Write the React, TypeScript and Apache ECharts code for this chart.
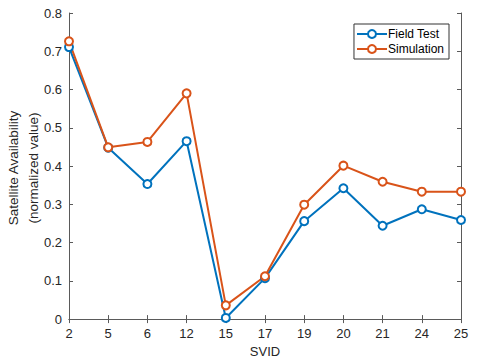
import React, { useEffect, useRef } from "react";
import * as echarts from "echarts";

const categories = ["2", "5", "6", "12", "15", "17", "19", "20", "21", "24", "25"];
const fieldTest = [0.711, 0.448, 0.353, 0.465, 0.003, 0.107, 0.256, 0.342, 0.244, 0.287, 0.259];
const simulation = [0.726, 0.449, 0.463, 0.59, 0.036, 0.112, 0.299, 0.401, 0.359, 0.333, 0.333];
const yTicks = { min: 0, max: 0.8, interval: 0.1 };

const FONT = "Liberation Sans, Arial, sans-serif";
const AX = "#5a5a5a";
const TXT = "#262626";

export default function App() {
  const ref = useRef<HTMLDivElement>(null);
  useEffect(() => {
    const chart = echarts.init(ref.current!, null, { renderer: "svg" });
    const tickStyle = { show: true, inside: true, length: 4, lineStyle: { color: AX, width: 1 } };
    chart.setOption({
      animation: false,
      backgroundColor: "#fff",
      textStyle: { fontFamily: FONT },
      grid: { left: 69, right: 19, top: 13, bottom: 41 },
      legend: {
        right: 31,
        top: 24,
        orient: "vertical",
        backgroundColor: "#fff",
        borderColor: "#333",
        borderWidth: 1,
        borderRadius: 0,
        padding: [4, 5, 4, 2],
        itemGap: 3,
        itemWidth: 30,
        itemHeight: 10,
        textStyle: { fontSize: 12, color: "#000", fontFamily: FONT, padding: [0, 0, 0, -4] },
        data: ["Field Test", "Simulation"],
      },
      xAxis: [
        {
          type: "category",
          data: categories,
          boundaryGap: false,
          name: "SVID",
          nameLocation: "middle",
          nameGap: 24,
          nameTextStyle: { fontSize: 13, color: TXT, fontFamily: FONT },
          axisLine: { lineStyle: { color: AX, width: 1 } },
          axisTick: { ...tickStyle, alignWithLabel: true },
          axisLabel: { fontSize: 13, color: TXT, margin: 8, fontFamily: FONT },
          splitLine: { show: false },
        },
        {
          type: "category",
          data: categories,
          boundaryGap: false,
          position: "top",
          axisLine: { show: true, lineStyle: { color: AX, width: 1 } },
          axisTick: tickStyle,
          axisLabel: { show: false },
          splitLine: { show: false },
        },
      ],
      yAxis: [
        {
          type: "value",
          min: yTicks.min,
          max: yTicks.max,
          interval: yTicks.interval,
          axisLine: { show: true, lineStyle: { color: AX, width: 1 } },
          axisTick: tickStyle,
          axisLabel: {
            fontSize: 13,
            color: TXT,
            margin: 7,
            fontFamily: FONT,
            formatter: (v: number) => (v === 0 ? "0" : v.toFixed(1)),
          },
          splitLine: { show: false },
        },
        {
          type: "value",
          min: yTicks.min,
          max: yTicks.max,
          interval: yTicks.interval,
          position: "right",
          axisLine: { show: true, lineStyle: { color: AX, width: 1 } },
          axisTick: tickStyle,
          axisLabel: { show: false },
          splitLine: { show: false },
        },
      ],
      graphic: [
        {
          type: "text",
          x: 23,
          y: 168,
          rotation: Math.PI / 2,
          style: {
            text: "Satellite Availability\n(normalized value)",
            fontSize: 13.5,
            lineHeight: 20,
            fill: TXT,
            fontFamily: FONT,
            align: "center",
            verticalAlign: "middle",
          },
        },
      ],
      series: [
        {
          name: "Field Test",
          type: "line",
          data: fieldTest,
          symbol: "emptyCircle",
          symbolSize: 8,
          itemStyle: { color: "#0072BD", borderWidth: 2 },
          lineStyle: { color: "#0072BD", width: 2 },
        },
        {
          name: "Simulation",
          type: "line",
          data: simulation,
          symbol: "emptyCircle",
          symbolSize: 8,
          itemStyle: { color: "#D95319", borderWidth: 2 },
          lineStyle: { color: "#D95319", width: 2 },
        },
      ],
    });
    return () => chart.dispose();
  }, []);
  return <div ref={ref} style={{ width: 480, height: 363, position: "absolute", left: 0, top: 0 }} />;
}
